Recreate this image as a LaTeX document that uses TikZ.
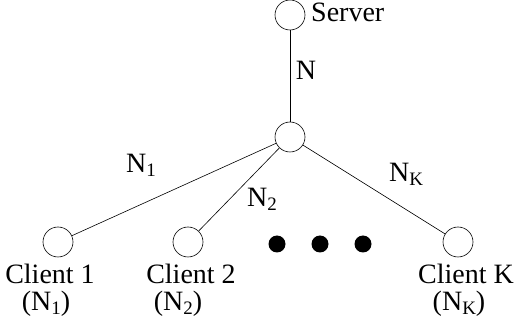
\documentclass[tikz,border=0pt]{standalone}
\usepackage{fontspec}
\setmainfont{Liberation Serif}
\newcommand\lowidx[1]{\raisebox{-4pt}{\fontsize{19}{19}\selectfont #1}}
\begin{document}
\begin{tikzpicture}[x=1pt,y=-1pt,
  host/.style={circle,draw,line width=0.6pt,minimum size=30pt,inner sep=0pt},
  blob/.style={circle,fill=black,minimum size=17pt,inner sep=0pt},
  lbl/.style={font=\fontsize{28}{30}\selectfont,inner sep=0pt,anchor=base,
    text height=17pt,text depth=3pt},
  link/.style={line width=0.6pt}]
\useasboundingbox (0,0) rectangle (515,323);
% hosts
\node[host] (srv) at (290,15) {};
\node[host] (hub) at (290,137) {};
\node[host] (c1) at (58,242) {};
\node[host] (c2) at (188,242) {};
\node[host] (ck) at (458,242) {};
% ellipsis between client 2 and client K
\node[blob] (d1) at (277,244) {};
\node[blob] (d2) at (320,244) {};
\node[blob] (d3) at (363,244) {};
% links
\draw[link] (srv) -- (hub);
\draw[link] (hub) -- (c1);
\draw[link] (hub) -- (c2);
\draw[link] (hub) -- (ck);
% text
\node[lbl,anchor=base west] (ts) at (311,22) {Server};
\node[lbl] (tn) at (306,80) {N};
\node[lbl] (tn1) at (141,173) {N\lowidx{1}};
\node[lbl] (tn2) at (262,207) {N\lowidx{2}};
\node[lbl] (tnk) at (406,182) {N\lowidx{K}};
\node[lbl] (tc1) at (50,284) {Client 1};
\node[lbl] (tc1n) at (46,311) {(N\lowidx{1})};
\node[lbl] (tc2) at (191,284) {Client 2};
\node[lbl] (tc2n) at (178,311) {(N\lowidx{2})};
\node[lbl] (tck) at (466,284) {Client K};
\node[lbl] (tckn) at (459,311) {(N\lowidx{K})};
\end{tikzpicture}
\end{document}
